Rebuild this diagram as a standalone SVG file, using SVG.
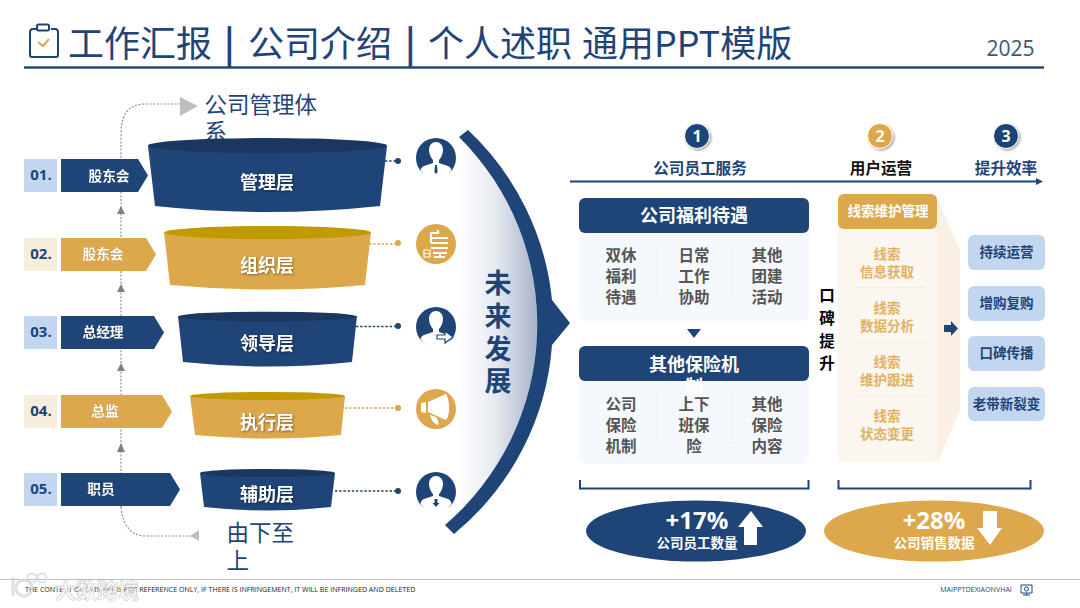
<svg xmlns="http://www.w3.org/2000/svg" width="1080" height="608" viewBox="0 0 1080 608">
<style>
text{font-family:"Noto Sans CJK SC","Noto Sans",sans-serif;text-anchor:middle;dominant-baseline:central;transform:translateY(-1px)}
.n{fill:#1f4477}.g{fill:#dda84c}.dk{fill:#1b365f}.gd{fill:#c09a00}
.b{font-weight:700}
.tag{font-size:13.700px;font-weight:700;fill:#fff;filter:drop-shadow(.6px .6px .6px rgba(0,0,0,.35))}
.num{font-family:"Open Sans",sans-serif;font-size:15px;font-weight:700;fill:#1f4477}
.fl{font-size:18px;font-weight:700;fill:#fff;filter:drop-shadow(1px 1px 1px rgba(0,0,0,.4))}
.big{font-size:22.500px;fill:#1f4477;text-anchor:start}
.hd{font-size:15.600px;font-weight:700}
.ct{font-size:18px;font-weight:700;fill:#fff}
.cell{font-size:15.500px;font-weight:700;fill:#555}
.lead{font-size:13.500px;font-weight:700;fill:#e2b262}
.rb{font-size:13.500px;font-weight:700;fill:#1f4477}
.stat{font-family:"Open Sans",sans-serif;font-size:24px;font-weight:700;fill:#fff}
.sub{font-size:13.500px;font-weight:700;fill:#fff}
.dv{stroke:#dfe3e8;stroke-width:1;stroke-dasharray:2 2;fill:none}
.dvg{stroke:#eadfce;stroke-width:1;stroke-dasharray:2 2;fill:none}
.dotg{stroke:#8f8f8f;stroke-width:1.200;stroke-dasharray:2 1.600;fill:none}
.cn{stroke:#1f4477;stroke-width:1.400;stroke-dasharray:2.400 1.800;fill:none}
.cg{stroke:#dda84c;stroke-width:1.400;stroke-dasharray:2.400 1.800;fill:none}
.br{stroke:#1f4477;stroke-width:2;fill:none}
.w{fill:#fff}
</style>
<defs>
<linearGradient id="fade" gradientUnits="userSpaceOnUse" x1="456" x2="540" y1="0" y2="0"><stop offset="0" stop-color="#fff"/><stop offset=".45" stop-color="#e8ecf2"/><stop offset="1" stop-color="#a3b0c6"/></linearGradient>
<filter id="sh" x="-30%" y="-30%" width="170%" height="170%"><feDropShadow dx="1.500" dy="1.500" stdDeviation="1.200" flood-color="#000" flood-opacity=".35"/></filter>
</defs>
<rect width="1080" height="608" fill="#fff"/>

<g id="header">
<path d="M37 29h-4a3 3 0 0 0-3 3v23a2 2 0 0 0 2 2h24a2 2 0 0 0 2-2V32a3 3 0 0 0-3-3h-4M37 29v-3a1.500 1.500 0 0 1 1.500-1.500h9A1.500 1.500 0 0 1 49 26v3a1.500 1.500 0 0 1-1.500 1.500h-9A1.500 1.500 0 0 1 37 29Z" fill="none" stroke="#1f4477" stroke-width="2"/>
<path d="M38 42l5 4 6-7" fill="none" stroke="#dda84c" stroke-width="2"/>
<text y="42" font-size="36" class="n" style="text-anchor:start"><tspan x="68">工作汇报</tspan><tspan x="224" font-weight="700">|</tspan><tspan x="248">公司介绍</tspan><tspan x="405" font-weight="700">|</tspan><tspan x="428">个人述职</tspan><tspan x="582">通用PPT模版</tspan></text>
<rect x="24" y="66.300" width="1020" height="2.400" class="n"/>
<text x="1010.500" y="49" font-size="21" fill="#44546a" style="font-family:'Open Sans',sans-serif">2025</text>
</g>

<g id="notes">
<text x="204.500" y="104" class="big">公司管理体</text>
<text x="204.500" y="131" class="big">系</text>
<text x="226.500" y="532" class="big">由下至</text>
<text x="226.500" y="560" class="big">上</text>
</g>

<g id="connectors">
<path class="dotg" d="M121 507V134Q121 104 145 104H180"/>
<path class="dotg" d="M121 507Q124 536 146 536H191"/>
<polygon points="180,97 198,106 180,116" fill="#bfbfbf"/>
<polygon points="199,530 199,541 190,536" fill="#bfbfbf"/>
<polygon points="121,206 117,214 125,214" fill="#7f7f7f"/>
<polygon points="121,284 117,292 125,292" fill="#7f7f7f"/>
<polygon points="121,363 117,371 125,371" fill="#7f7f7f"/>
<polygon points="121,443 117,452 125,452" fill="#7f7f7f"/>
<path class="cn" d="M385 161H398"/><circle cx="398" cy="161" r="3" class="n"/>
<path class="cg" d="M369 244H398"/><circle cx="398" cy="243" r="3" class="g"/>
<path class="cn" d="M356 326.500H398"/><circle cx="398" cy="326" r="3" class="n"/>
<path class="cg" d="M345 408H398"/><circle cx="398" cy="408" r="3" class="g"/>
<path class="cn" d="M335 491H398"/><circle cx="398" cy="491" r="3" class="n"/>
</g>

<g id="step1"><rect x="24" y="159" width="33" height="33" fill="#c3d6ef"/><polygon points="61,159 138,159 148,175.500 138,192 61,192" class="n"/><text x="41" y="175" class="num">01.</text><text x="109" y="175.500" class="tag">股东会</text></g>
<g id="step2"><rect x="24" y="238" width="33" height="33" fill="#f7eddd"/><polygon points="61,238 146,238 156,254.500 146,271 61,271" class="g"/><text x="41" y="254" class="num">02.</text><text x="103" y="254" class="tag">股东会</text></g>
<g id="step3"><rect x="24" y="316" width="33" height="33" fill="#c3d6ef"/><polygon points="61,316 154,316 164,332.500 154,349 61,349" class="n"/><text x="41" y="332" class="num">03.</text><text x="103" y="332" class="tag">总经理</text></g>
<g id="step4"><rect x="24" y="395" width="33" height="33" fill="#f7eddd"/><polygon points="61,395 162,395 172,411.500 162,428 61,428" class="g"/><text x="41" y="411" class="num">04.</text><text x="105" y="411" class="tag">总监</text></g>
<g id="step5"><rect x="24" y="473" width="33" height="33" fill="#c3d6ef"/><polygon points="61,473 170,473 180,489.500 170,506 61,506" class="n"/><text x="41" y="489" class="num">05.</text><text x="101" y="489" class="tag">职员</text></g>

<g id="funnel1"><path class="n" d="M148 146L155 206Q267 218 380 206L387 146Z"/><ellipse cx="267.500" cy="145.500" rx="119.500" ry="7.500" class="dk"/><text x="267" y="182" class="fl">管理层</text></g>
<g id="funnel2"><path class="g" d="M164 232L170 285Q267 294 365 285L371 232Z"/><ellipse cx="267.500" cy="232.500" rx="103.500" ry="6.500" class="gd"/><text x="267" y="265" class="fl">组织层</text></g>
<g id="funnel3"><path class="n" d="M178 316L183 362Q267 371 352 362L357 316Z"/><ellipse cx="267.500" cy="316.500" rx="89.500" ry="4.800" class="dk"/><text x="267" y="343" class="fl">领导层</text></g>
<g id="funnel4"><path class="g" d="M190 396L195 435Q267 442 341 435L345 396Z"/><ellipse cx="267.500" cy="396" rx="77.500" ry="4" class="gd"/><text x="267" y="422" class="fl">执行层</text></g>
<g id="funnel5"><path class="n" d="M200 473L204 507Q267 514 331 507L335 473Z"/><ellipse cx="267.500" cy="473" rx="67.500" ry="4" class="dk"/><text x="267" y="494" class="fl">辅助层</text></g>

<g id="future">
<path fill="url(#fade)" d="M459 137A264 264 0 0 1 445 525L456 500V160Z"/>
<path class="n" d="M468 130A270 270 0 0 1 552 300L570 323L552 345A270 270 0 0 1 454 534L445 525A264 264 0 0 0 459 137Z"/>
<g class="b" font-size="27"><text x="498" y="282" class="n">未</text><text x="498" y="315" class="n">来</text><text x="498" y="348" class="n">发</text><text x="498" y="380" class="n">展</text></g>
</g>

<g id="icon1"><circle cx="436" cy="158" r="20" class="n"/><path class="w" d="M429 150c0-5 3-8 7-8s7 3 7 8c0 4-2 8-4 10v3l9 3c2 1 3 2 3.500 4a18 18 0 0 1-31 0c.5-2 1.500-3 3.500-4l9-3v-3c-2-2-4-6-4-10Z"/><path class="n" d="M435 165h2l.6 7-1.600 2-1.600-2Z"/></g>
<g id="icon2"><circle cx="436" cy="244" r="20" class="g"/><path fill="none" stroke="#fff" stroke-width="2.200" d="M431 243v-10h7v-3M431 238h17M431 243h17M431 248h17"/><path fill="none" stroke="#fff" stroke-width="1.200" d="M424 250h6v7h-6ZM424 253.500h6"/><path fill="none" stroke="#fff" stroke-width="2" d="M433 253h14M440 253v4M434 257h11"/></g>
<g id="icon3"><circle cx="436" cy="327" r="20" class="n"/><path class="w" d="M429 319c0-5 3-8 7-8s7 3 7 8c0 4-2 8-4 10v3l9 3c2 1 3 2 3.500 4a18 18 0 0 1-31 0c.5-2 1.500-3 3.500-4l9-3v-3c-2-2-4-6-4-10Z"/><path class="w" stroke="#1f4477" stroke-width="1.200" d="M437 335h8v-4l8 6-8 6v-4h-8Z"/></g>
<g id="icon4"><circle cx="436" cy="409" r="20" class="g"/><path class="w" d="M421 403l5-1v11l-5-1ZM428 402l18-8c2 3 3 8 3 14s-1 10-3 12l-18-8Z"/><path class="w" d="M430 415l6 2c2 3 3 6 2 8-4-1-7-5-8-10Z"/></g>
<g id="icon5"><circle cx="436" cy="492" r="20" class="n"/><path class="w" d="M429 484c0-5 3-8 7-8s7 3 7 8c0 4-2 8-4 10v2l9 3c2 1 3 2 3.500 5a18 18 0 0 1-31 0c.5-3 1.500-4 3.500-5l9-3v-2c-2-2-4-6-4-10Z"/><path class="n" d="M434.500 499h3v4h2l-3.500 4-3.500-4h2Z"/></g>

<g id="steps-head">
<path d="M570 181.500H1037" stroke="#1f4477" stroke-width="2" fill="none"/><polygon points="1036,178 1043,181.500 1036,185" class="n"/>
<g filter="url(#sh)"><circle cx="697" cy="136" r="12.500" class="n" stroke="#fff" stroke-width="1"/><circle cx="880" cy="136" r="12.500" class="g" stroke="#fff" stroke-width="1"/><circle cx="1006" cy="136" r="12.500" class="n" stroke="#fff" stroke-width="1"/></g>
<text x="697" y="137" font-size="16" class="b w" style="font-family:'Open Sans',sans-serif">1</text>
<text x="880" y="137" font-size="16" class="b w" style="font-family:'Open Sans',sans-serif">2</text>
<text x="1006" y="137" font-size="16" class="b w" style="font-family:'Open Sans',sans-serif">3</text>
<text x="700" y="168" class="hd n">公司员工服务</text>
<text x="881" y="168" class="hd" fill="#111">用户运营</text>
<text x="1006" y="168" class="hd n">提升效率</text>
</g>

<g id="card1">
<rect x="579" y="228" width="230" height="93" rx="8" fill="#f5f8fc"/>
<rect x="579" y="198" width="230" height="35" rx="6" class="n"/>
<text x="694" y="215" class="ct">公司福利待遇</text>
<path class="dv" d="M657 245V295M732 245V295"/>
<text x="621" y="255" class="cell">双休</text><text x="621" y="276" class="cell">福利</text><text x="621" y="297" class="cell">待遇</text>
<text x="694" y="255" class="cell">日常</text><text x="694" y="276" class="cell">工作</text><text x="694" y="297" class="cell">协助</text>
<text x="767" y="255" class="cell">其他</text><text x="767" y="276" class="cell">团建</text><text x="767" y="297" class="cell">活动</text>
</g>
<polygon id="down" points="687,329 701,329 694,338" class="n"/>
<g id="card2">
<rect x="579" y="376" width="230" height="88" rx="8" fill="#f5f8fc"/>
<rect x="579" y="346" width="230" height="35" rx="6" class="n"/>
<text x="694" y="364" class="ct">其他保险机</text><text x="694" y="386" class="ct">制</text>
<path class="dv" d="M657 394V444M732 394V444"/>
<text x="621" y="404" class="cell">公司</text><text x="621" y="425" class="cell">保险</text><text x="621" y="446" class="cell">机制</text>
<text x="694" y="404" class="cell">上下</text><text x="694" y="425" class="cell">班保</text><text x="694" y="446" class="cell">险</text>
<text x="767" y="404" class="cell">其他</text><text x="767" y="425" class="cell">保险</text><text x="767" y="446" class="cell">内容</text>
</g>

<g id="side-label" font-size="15.500">
<text x="827" y="295" class="b" fill="#000">口</text><text x="827" y="318" class="b" fill="#000">碑</text><text x="827" y="341" class="b" fill="#000">提</text><text x="827" y="363" class="b" fill="#000">升</text>
</g>

<g id="lead-panel">
<polygon points="937,198 960,250 960,410 937,463" fill="#f9f0e3"/>
<rect x="838" y="222" width="99" height="240" rx="6" fill="#fbf6ef"/>
<rect x="937" y="229" width="1" height="233" fill="#f9f0e3"/>
<rect x="838" y="194" width="99" height="35" rx="6" class="g"/>
<text x="888" y="211" class="sub">线索维护管理</text>
<text x="887" y="254" class="lead">线索</text><text x="887" y="272" class="lead">信息获取</text>
<text x="887" y="308" class="lead">线索</text><text x="887" y="326" class="lead">数据分析</text>
<text x="887" y="362" class="lead">线索</text><text x="887" y="380" class="lead">维护跟进</text>
<text x="887" y="416" class="lead">线索</text><text x="887" y="434" class="lead">状态变更</text>
<path class="dvg" d="M856 287.500H925M856 342.500H925M856 396.500H925"/>
</g>
<polygon id="right-arrow" points="944,325 951,325 951,321 958,328.500 951,336 951,332 944,332" class="n"/>

<g id="r1"><rect x="968" y="235" width="77" height="35" rx="6" fill="#c3d6ef"/><text x="1006.500" y="252" class="rb">持续运营</text></g>
<g id="r2"><rect x="968" y="286" width="77" height="35" rx="6" fill="#c3d6ef"/><text x="1006.500" y="303" class="rb">增购复购</text></g>
<g id="r3"><rect x="968" y="336" width="77" height="35" rx="6" fill="#c3d6ef"/><text x="1006.500" y="353" class="rb">口碑传播</text></g>
<g id="r4"><rect x="968" y="387" width="77" height="34" rx="6" fill="#c3d6ef"/><text x="1006.500" y="403.500" class="rb">老带新裂变</text></g>

<g id="brackets"><path class="br" d="M580 480V488.500H808.500V480"/><path class="br" d="M838.500 480V488.500H1030.500V480"/></g>

<g id="stat1"><ellipse cx="696" cy="531" rx="110" ry="30.500" class="n"/><text x="697" y="520" class="stat">+17%</text><text x="697" y="543" class="sub">公司员工数量</text><polygon points="751,511 763,527 757,527 757,545 744,545 744,527 738,527" class="w"/></g>
<g id="stat2"><ellipse cx="934" cy="531" rx="110" ry="30.500" class="g"/><text x="934" y="520" class="stat">+28%</text><text x="934" y="543" class="sub">公司销售数据</text><polygon points="983,511 997,511 997,528 1002,528 990,545 977,528 983,528" class="w"/></g>

<g id="footer">
<rect x="0" y="579" width="1080" height="1" fill="#bdbdbd"/>
<text x="25" y="590" font-size="7.080" fill="#222" style="text-anchor:start;font-family:'Open Sans',sans-serif">THE CONTENT OF THIS PPT IS FOR REFERENCE ONLY, IF THERE IS INFRINGEMENT, IT WILL BE INFRINGED AND DELETED</text>
<text x="976" y="590" font-size="7.100" fill="#1f4477" style="font-family:'Open Sans',sans-serif">MAIPPTDEXIAONVHAI</text>
<path d="M1021 585h11v8h-11ZM1026.500 593v2M1023 595h7" fill="none" stroke="#1f4477" stroke-width="1"/><circle cx="1026.500" cy="589" r="2" fill="none" stroke="#1f4477" stroke-width="1"/>
</g>
<g id="watermark" opacity=".8">
<path d="M13 577V596" stroke="#d9d9d9" stroke-width="3" fill="none"/>
<circle cx="24" cy="588" r="8" fill="none" stroke="#d9d9d9" stroke-width="3"/>
<circle cx="32" cy="578" r="4.500" fill="none" stroke="#d9d9d9" stroke-width="2"/><circle cx="42" cy="578" r="4.500" fill="none" stroke="#d9d9d9" stroke-width="2"/>
<text x="97" y="590" font-size="21" fill="#fff" stroke="#c8c8c8" stroke-width=".8" class="b">大数跨境</text>
</g>
</svg>
